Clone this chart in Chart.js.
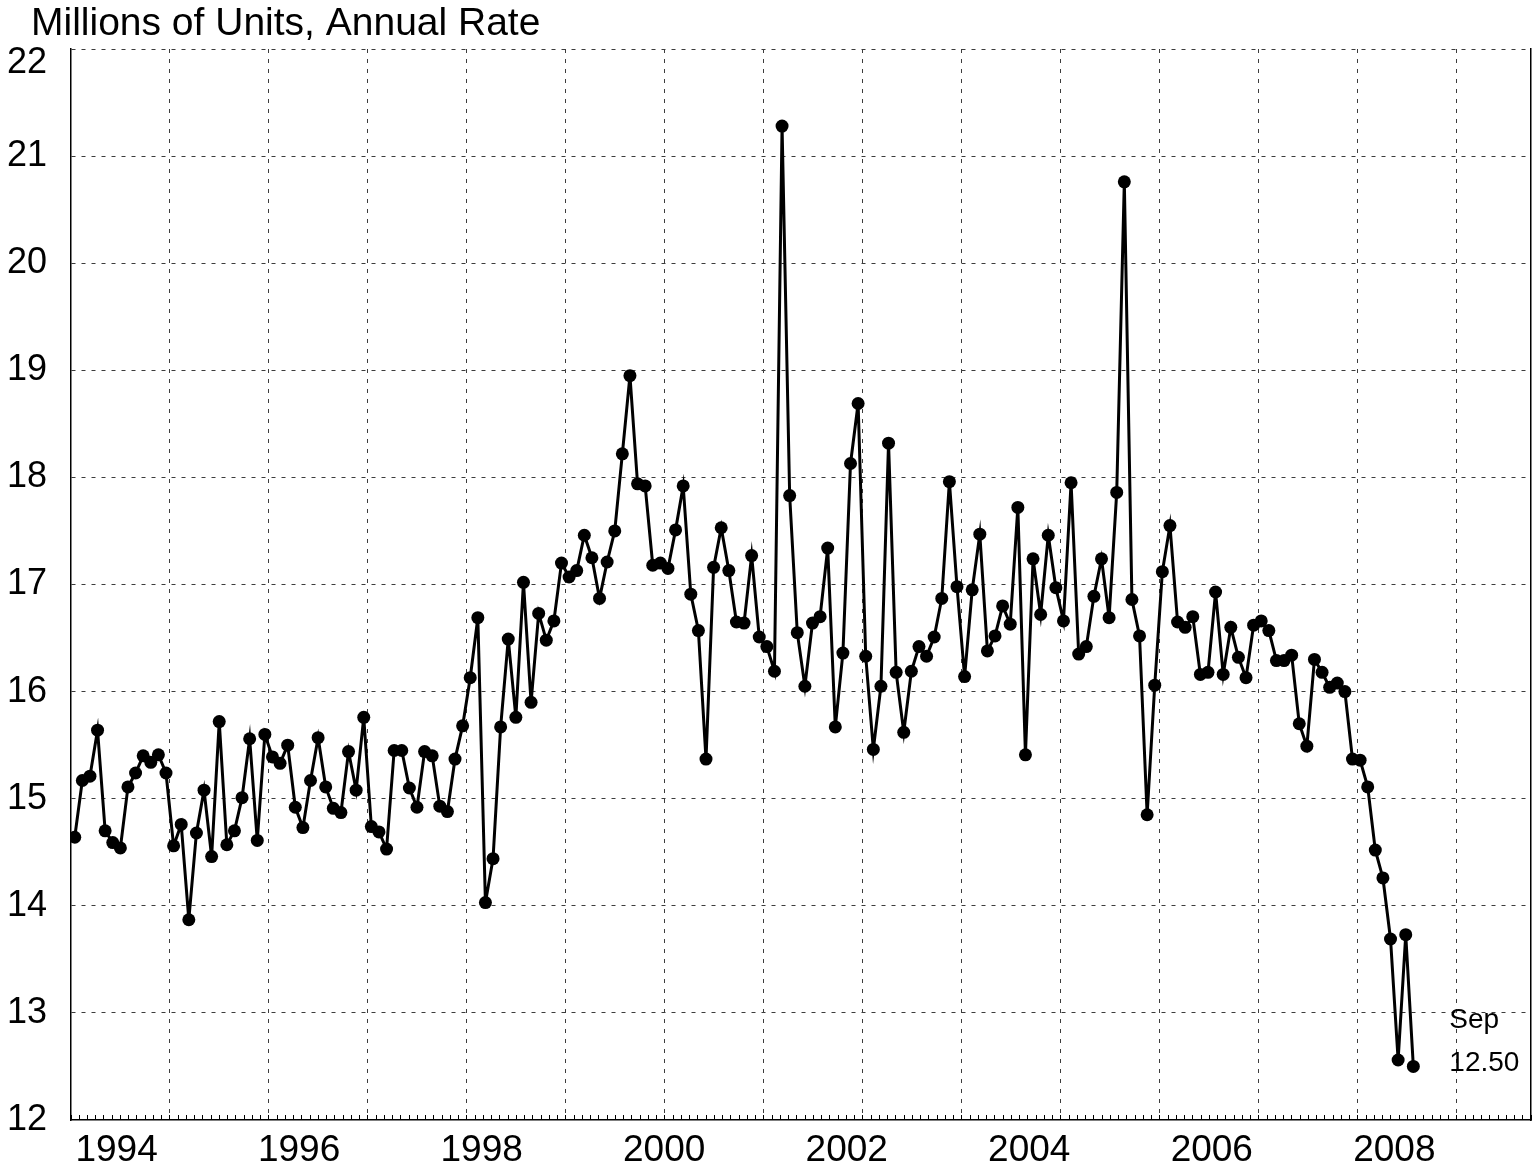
<!DOCTYPE html>
<html>
<head>
<meta charset="utf-8">
<title>Light Vehicle Sales</title>
<script src="https://cdn.jsdelivr.net/npm/chart.js@4/dist/chart.umd.min.js"></script>
<style>
  html, body { margin: 0; padding: 0; background: #fff; overflow: hidden; }
  canvas { display: block; }
</style>
</head>
<body>
<canvas id="chart" width="1532" height="1167"></canvas>
<script>
// Monthly sales, millions of units at an annual rate, January 1994 onward
const startYear = 1994;
const monthNames = ['Jan', 'Feb', 'Mar', 'Apr', 'May', 'Jun', 'Jul', 'Aug', 'Sep', 'Oct', 'Nov', 'Dec'];

const sales1994 = [14.64, 15.17, 15.21, 15.64, 14.70, 14.59, 14.54, 15.11, 15.24, 15.40, 15.34, 15.41];
const sales1995 = [15.24, 14.56, 14.76, 13.87, 14.68, 15.08, 14.46, 15.72, 14.57, 14.70, 15.01, 15.56];
const sales1996 = [14.61, 15.60, 15.39, 15.33, 15.50, 14.92, 14.73, 15.17, 15.57, 15.11, 14.91, 14.87];
const sales1997 = [15.44, 15.08, 15.76, 14.74, 14.69, 14.53, 15.45, 15.45, 15.10, 14.92, 15.44, 15.40];
const sales1998 = [14.93, 14.88, 15.37, 15.68, 16.13, 16.69, 14.03, 14.44, 15.67, 16.49, 15.76, 17.02];
const sales1999 = [15.90, 16.73, 16.48, 16.66, 17.20, 17.07, 17.13, 17.46, 17.25, 16.87, 17.21, 17.50];
const sales2000 = [18.22, 18.95, 17.94, 17.92, 17.18, 17.20, 17.15, 17.51, 17.92, 16.91, 16.57, 15.37];
const sales2001 = [17.16, 17.53, 17.13, 16.65, 16.64, 17.27, 16.51, 16.42, 16.19, 21.28, 17.83, 16.55];
const sales2002 = [16.05, 16.64, 16.70, 17.34, 15.67, 16.36, 18.13, 18.69, 16.33, 15.46, 16.05, 18.32];
const sales2003 = [16.18, 15.62, 16.19, 16.42, 16.33, 16.51, 16.87, 17.96, 16.98, 16.14, 16.95, 17.47];
const sales2004 = [16.38, 16.52, 16.80, 16.63, 17.72, 15.41, 17.24, 16.72, 17.46, 16.97, 16.66, 17.95];
const sales2005 = [16.35, 16.42, 16.89, 17.24, 16.69, 17.86, 20.76, 16.86, 16.52, 14.85, 16.06, 17.12];
const sales2006 = [17.55, 16.65, 16.60, 16.70, 16.16, 16.18, 16.93, 16.16, 16.60, 16.32, 16.13, 16.62];
const sales2007 = [16.66, 16.57, 16.29, 16.29, 16.34, 15.70, 15.49, 16.30, 16.18, 16.04, 16.08, 16.00];
const sales2008 = [15.37, 15.36, 15.11, 14.52, 14.26, 13.69, 12.56, 13.73, 12.50];

const yearLabels = ['1994', '1996', '1998', '2000', '2002', '2004', '2006', '2008'];
const yTickValues = [12, 13, 14, 15, 16, 17, 18, 19, 20, 21, 22];
const unitsTitle = 'Millions of Units, Annual Rate';

const sales = [].concat(sales1994, sales1995, sales1996, sales1997, sales1998, sales1999,
  sales2000, sales2001, sales2002, sales2003, sales2004, sales2005, sales2006, sales2007, sales2008);
const points = sales.map((v, i) => ({ x: i, y: v }));

const FONT = "'Liberation Sans', Arial, Helvetica, sans-serif";
const Y_MIN = 12, Y_MAX = 22;
const GRID_DASH_COLOR = '#3c3c3c';
const MINOR_STEPS = 177;       // fine tick marks along the bottom edge
const MAJOR_EVERY = 12;        // a dashed vertical line every 12 fine ticks

// Units caption above the plot, flush with the axis labels
const unitsCaption = {
  id: 'unitsCaption',
  afterDraw(chart) {
    const ctx = chart.ctx;
    ctx.save();
    ctx.fillStyle = '#000';
    ctx.font = '39px ' + FONT;
    ctx.textAlign = 'left';
    ctx.textBaseline = 'alphabetic';
    ctx.fillText(unitsTitle, 31, 35);
    ctx.restore();
  }
};

// Text beside the latest observation: month name above, value below
const lastPointLabel = {
  id: 'lastPointLabel',
  afterDatasetsDraw(chart) {
    const meta = chart.getDatasetMeta(0);
    const n = sales.length;
    const el = meta.data[n - 1];
    if (!el) return;
    const ctx = chart.ctx;
    ctx.save();
    ctx.fillStyle = '#000';
    ctx.font = '28px ' + FONT;
    ctx.textAlign = 'left';
    ctx.textBaseline = 'middle';
    const tx = el.x + 36;
    ctx.fillText(monthNames[(n - 1) % 12], tx, el.y - 46);
    ctx.fillText(sales[n - 1].toFixed(2), tx, el.y - 3);
    ctx.restore();
  }
};

new Chart(document.getElementById('chart'), {
  type: 'line',
  data: {
    datasets: [{
      data: points,
      borderColor: '#000',
      borderWidth: 3,
      pointRadius: 6.5,
      pointHoverRadius: 6.5,
      pointBackgroundColor: '#000',
      pointBorderColor: '#000',
      pointBorderWidth: 0,
      tension: 0,
      xAxisID: 'x',
      yAxisID: 'y'
    }]
  },
  options: {
    responsive: false,
    animation: false,
    events: [],
    layout: { autoPadding: false, padding: { left: 0, right: 1, top: 49, bottom: 0 } },
    plugins: {
      legend: { display: false },
      tooltip: { enabled: false },
      title: { display: false }
    },
    scales: {
      x: {
        type: 'linear',
        position: 'bottom',
        min: -0.49,
        max: 191.47,
        afterBuildTicks(scale) {
          scale.ticks = yearLabels.map(y => ({ value: (Number(y) - startYear) * 12 + 5.5, lbl: y }));
        },
        afterFit(scale) { scale.height = 47; },
        grid: { display: false },
        border: { display: true, color: '#000', width: 1.5 },
        ticks: {
          autoSkip: false,
          maxRotation: 0,
          padding: 1,
          color: '#000',
          font: { family: FONT, size: 37 },
          callback(value, index, ticks) { return ticks[index].lbl; }
        }
      },
      xg: {
        type: 'linear',
        position: 'bottom',
        min: 0,
        max: MINOR_STEPS,
        afterBuildTicks(scale) {
          scale.ticks = Array.from({ length: MINOR_STEPS + 1 }, (_, k) => ({ value: k }));
        },
        afterFit(scale) { scale.height = 0; },
        grid: {
          display: true,
          drawOnChartArea: true,
          drawTicks: false,
          lineWidth: 1,
          color(ctx) {
            const v = ctx.tick ? ctx.tick.value : 0;
            return (v > 0 && v < MINOR_STEPS && v % MAJOR_EVERY === 0) ? GRID_DASH_COLOR : 'rgba(0,0,0,0)';
          }
        },
        border: { display: false, dash: [4, 6] },
        ticks: { display: false }
      },
      xm: {
        type: 'linear',
        position: { y: Y_MIN + 5 / 107.1 },
        min: 0,
        max: MINOR_STEPS,
        afterBuildTicks(scale) {
          scale.ticks = Array.from({ length: MINOR_STEPS + 1 }, (_, k) => ({ value: k }));
        },
        grid: {
          display: true,
          drawOnChartArea: false,
          drawTicks: true,
          tickLength: 5,
          tickWidth: 1,
          tickColor: '#000',
          color: '#000'
        },
        border: { display: false },
        ticks: { display: false }
      },
      y: {
        type: 'linear',
        position: 'left',
        min: Y_MIN,
        max: Y_MAX,
        afterBuildTicks(scale) {
          const list = [];
          yTickValues.forEach(v => {
            if (v === Y_MAX) {
              // top label sits just below the top edge, clear of the caption
              list.push({ value: v - 0.135, lbl: String(v) });
              list.push({ value: v, lbl: '' });
            } else {
              list.push({ value: v, lbl: String(v) });
            }
          });
          scale.ticks = list;
        },
        afterFit(scale) { scale.width = 71; },
        grid: {
          display: true,
          drawTicks: false,
          lineWidth: 1,
          color(ctx) {
            const v = ctx.tick ? ctx.tick.value : Y_MIN;
            return (Number.isInteger(v) && v > Y_MIN) ? GRID_DASH_COLOR : 'rgba(0,0,0,0)';
          }
        },
        border: { display: true, color: '#000', width: 1.5, dash: [4, 6] },
        ticks: {
          autoSkip: false,
          padding: 24,
          color: '#000',
          font: { family: FONT, size: 36 },
          callback(value, index, ticks) { return ticks[index].lbl; }
        }
      },
      yr: {
        type: 'linear',
        position: 'right',
        min: Y_MIN,
        max: Y_MAX,
        afterFit(scale) { scale.width = 0; },
        grid: { display: true, drawOnChartArea: false, drawTicks: false },
        border: { display: true, color: '#000', width: 1.5 },
        ticks: { display: false }
      }
    }
  },
  plugins: [unitsCaption, lastPointLabel]
});
</script>
</body>
</html>
